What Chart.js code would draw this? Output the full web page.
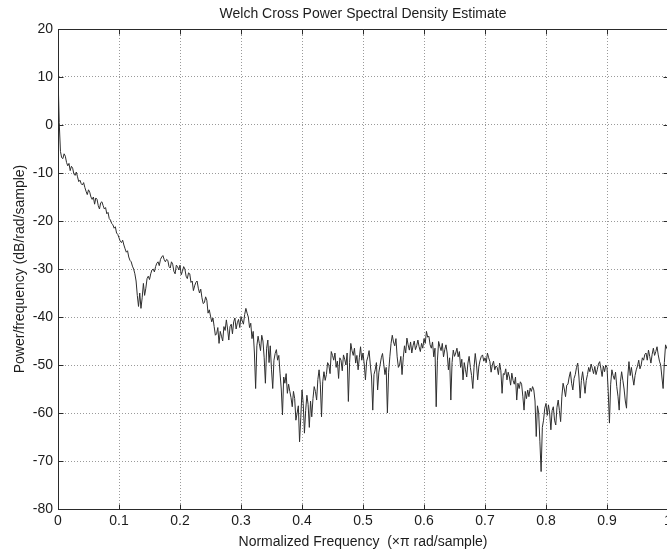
<!DOCTYPE html>
<html><head><meta charset="utf-8">
<script src="https://cdn.jsdelivr.net/npm/chart.js@4.4.1/dist/chart.umd.min.js"></script>
<style>
html,body{margin:0;padding:0;background:#fff;overflow:hidden;width:667px;height:551px}
#wrap{width:690px;height:551px;position:relative}
</style></head>
<body><div id="wrap"><canvas id="c" width="690" height="551"></canvas></div>
<script>
const chartTitle = 'Welch Cross Power Spectral Density Estimate';
const xAxisTitle = 'Normalized Frequency  (\u00d7\u03c0 rad/sample)';
const yAxisTitle = 'Power/frequency (dB/rad/sample)';
const xTickValues = [0, 0.1, 0.2, 0.3, 0.4, 0.5, 0.6, 0.7, 0.8, 0.9, 1];
const yTickValues = [-80, -70, -60, -50, -40, -30, -20, -10, 0, 10, 20];
const freqStep = 0.002; // normalized frequency spacing of the estimate
const psd = [
 10.5, 0.5, -5.5, -6.8, -7, -6, -6.5, -7.8, -8.5, -8,
 -9.5, -8.6, -9, -10.2, -10.5, -9.8, -10.8, -11.8, -11.5, -12.2,
 -12.5, -12, -13, -13.8, -14.5, -13.5, -14, -15, -15.5, -15,
 -16.5, -15.2, -15.5, -16.8, -17.5, -16.2, -16, -16.8, -17.5, -17.2,
 -18.5, -18.2, -19.5, -19.8, -20.5, -20.8, -21.5, -21.2, -22.5, -22.8,
 -23.5, -24.2, -24.5, -24, -25, -25.8, -26.5, -26.2, -27.5, -28.2,
 -28.5, -29.4, -30, -31, -32.5, -35.5, -37.8, -35, -38.2, -36,
 -33, -35.5, -34, -32, -31.5, -32.2, -31, -30.2, -30, -30.6,
 -29.5, -28.8, -28.5, -29.3, -28, -27.5, -27.2, -28, -28.5, -28,
 -28.2, -29.5, -29.8, -28.5, -29, -30.5, -31, -29.2, -29.5, -30.2,
 -29.2, -31.2, -30.5, -29.5, -30, -31.5, -32, -30.8, -31, -32.8,
 -32.5, -34.5, -33.5, -32.8, -32.5, -34, -35, -34.2, -36, -37.2,
 -37, -35.8, -36.5, -39.2, -38.5, -39.8, -41, -40.2, -42, -43.8,
 -43.5, -42.2, -45.5, -43, -44, -45, -42, -42.8, -40.6, -42.5,
 -44.8, -42, -41.5, -43.5, -41, -40.2, -42.5, -41.2, -40.5, -42.2,
 -39.9, -40.8, -41.5, -39.5, -38.2, -39.2, -40, -42.2, -41.3, -44.5,
 -43, -47.5, -54.9, -46, -44, -45.5, -47, -43.8, -45, -48.5,
 -53.8, -46.5, -44.8, -49.5, -46, -51, -54.9, -49, -47.6, -46.8,
 -49, -48, -51.7, -55, -60.4, -52.5, -53.8, -51.8, -55.9, -54,
 -55.5, -56.8, -58.7, -55.5, -57, -61.5, -60, -58.5, -66, -61,
 -55.2, -58, -64.2, -59.5, -56.3, -58.2, -63, -57.5, -60.8, -57,
 -54.5, -55.5, -57.3, -53, -51, -54, -60.8, -53.5, -51.4, -53.2,
 -52, -49.5, -50, -51.8, -47.2, -48, -49, -47.5, -50.5, -49.2,
 -52.8, -48.5, -49, -51.2, -47.9, -48.8, -50, -47.5, -57.6, -49.5,
 -45.5, -47, -48, -46.5, -49.6, -48, -51, -48.5, -46.2, -49,
 -47.5, -49.8, -53.1, -49.2, -48.3, -47, -50, -52.5, -59.4, -52,
 -51, -49.5, -55.2, -51.5, -50, -48.5, -47.6, -49.8, -52, -50.5,
 -60, -51.5, -48.3, -45.5, -43.8, -45.2, -46, -44.5, -48.3, -50.5,
 -50, -48.2, -52, -48.5, -46, -47.5, -44.4, -45.8, -46.9, -45.2,
 -47.5, -46, -45, -46.8, -46, -44.8, -46.2, -47.2, -45.5, -46.5,
 -44.5, -45.5, -43, -44.2, -44, -45.8, -46.5, -45.2, -48.3, -46.5,
 -58.7, -49, -45.1, -46.2, -47, -45.5, -48.3, -46.8, -45.8, -47.5,
 -51, -48.5, -57.3, -49.5, -46.9, -48.2, -47.5, -46.5, -48.3, -47.2,
 -50.5, -48.8, -53.1, -49.5, -51, -52.5, -49.6, -48.2, -50.5, -52.2,
 -54.9, -50.5, -47.6, -49.8, -53.1, -50.2, -49, -48.2, -47.9, -49.2,
 -48.5, -49.5, -47.5, -48.5, -49.3, -51.5, -50, -49.2, -51, -50.2,
 -50.5, -52, -49.6, -51.2, -55.9, -51.8, -52, -50.8, -53.1, -51.5,
 -52.5, -54.2, -51.7, -53.2, -54, -52.5, -57.3, -53.8, -54.9, -53.5,
 -54, -56.5, -59.4, -55.5, -57, -55.2, -56.6, -54.8, -55.5, -54.5,
 -55.2, -57.5, -64.9, -58.5, -60, -66, -72.2, -63, -61.5, -59,
 -58, -60.5, -58.3, -60, -63.5, -59.5, -58.7, -61.5, -62.5, -58.8,
 -57.3, -59.5, -61.8, -56.5, -53.8, -55, -56.6, -54.2, -54, -52.5,
 -51.4, -53.8, -55.2, -52.8, -52, -50.5, -49.6, -52.5, -56.9, -53.2,
 -51.4, -53.5, -55.9, -53.2, -52, -50.5, -51.4, -49.8, -50.8, -51.8,
 -50.3, -52, -51, -49.8, -49.3, -50.8, -52.4, -50.2, -51.4, -50,
 -50.5, -55.5, -62.1, -54, -51, -52.2, -53, -51.5, -54.5, -56.5,
 -59.4, -53.5, -51.4, -53.2, -55, -57.5, -59, -52.5, -49.3, -52.2,
 -50.5, -52.5, -54.2, -52.2, -51, -50.2, -49, -50.8, -50, -48.5,
 -49, -47.8, -47.5, -49, -46.9, -48.2, -49.6, -47.8, -46.5, -48,
 -47.2, -46.2, -47.9, -49.2, -50, -52.5, -54.9, -49.5, -45.8, -46.5,
 -47
];
const freq = psd.map((_, i) => Math.round(i * freqStep * 1000) / 1000);

const FONT = '"Liberation Sans", Arial, Helvetica, sans-serif';
const TEXT = '#1c1c1c';
const AXIS = '#2a2a2a';

const matlabFrame = {
  id: 'matlabFrame',
  afterDraw(chart) {
    const {ctx, chartArea: a, scales: {x, y}} = chart;
    ctx.save();
    ctx.strokeStyle = AXIS;
    ctx.lineWidth = 1;
    const L = Math.round(a.left) + 0.5, R = Math.round(a.right) + 0.5;
    const T = Math.round(a.top) + 0.5, B = Math.round(a.bottom) + 0.5;
    ctx.beginPath();
    ctx.moveTo(L, T); ctx.lineTo(R, T); ctx.lineTo(R, B); ctx.lineTo(L, B); ctx.closePath();
    const tl = 5;
    xTickValues.forEach(v => {
      const px = Math.round(x.getPixelForValue(v)) + 0.5;
      ctx.moveTo(px, B); ctx.lineTo(px, B - tl);
      ctx.moveTo(px, T); ctx.lineTo(px, T + tl);
    });
    yTickValues.forEach(v => {
      const py = Math.round(y.getPixelForValue(v)) + 0.5;
      ctx.moveTo(L, py); ctx.lineTo(L + tl, py);
      ctx.moveTo(R, py); ctx.lineTo(R - tl, py);
    });
    ctx.stroke();
    ctx.fillStyle = TEXT;
    ctx.font = '14px ' + FONT;
    ctx.textAlign = 'center';
    ctx.textBaseline = 'alphabetic';
    ctx.fillText(chartTitle, (a.left + a.right) / 2, 17.5);
    ctx.restore();
  }
};

new Chart(document.getElementById('c'), {
  type: 'line',
  data: {
    datasets: [{
      data: freq.map((f, i) => ({x: f, y: psd[i]})),
      borderColor: '#2e2e2e',
      borderWidth: 1,
      pointRadius: 0,
      tension: 0,
      fill: false
    }]
  },
  options: {
    responsive: false,
    animation: false,
    layout: {padding: {left: 0, top: 29, right: 22, bottom: 0}},
    plugins: {legend: {display: false}, tooltip: {enabled: false}, title: {display: false}},
    scales: {
      x: {
        type: 'linear', min: 0, max: 1,
        afterBuildTicks: s => { s.ticks = xTickValues.map(v => ({value: v})); },
        afterFit: s => { s.height = 42; },
        ticks: {
          padding: 4, maxRotation: 0, autoSkip: false,
          color: TEXT, font: {family: FONT, size: 14},
          callback: v => String(Math.round(v * 10) / 10)
        },
        grid: {color: '#9a9a9a', lineWidth: 1, drawTicks: false},
        border: {display: true, color: AXIS, dash: [1, 2]},
        title: {display: true, text: xAxisTitle, color: TEXT, font: {family: FONT, size: 14}, padding: {top: 4, bottom: 0}}
      },
      y: {
        type: 'linear', min: -80, max: 20,
        afterBuildTicks: s => { s.ticks = yTickValues.map(v => ({value: v})); },
        afterFit: s => { s.width = 58; },
        ticks: {padding: 5, color: TEXT, font: {family: FONT, size: 14}},
        grid: {color: '#9a9a9a', lineWidth: 1, drawTicks: false},
        border: {display: true, color: AXIS, dash: [1, 2]},
        title: {display: true, text: yAxisTitle, color: TEXT, font: {family: FONT, size: 14}, padding: {top: 12, bottom: 0}}
      }
    }
  },
  plugins: [matlabFrame]
});
</script>
</body></html>
